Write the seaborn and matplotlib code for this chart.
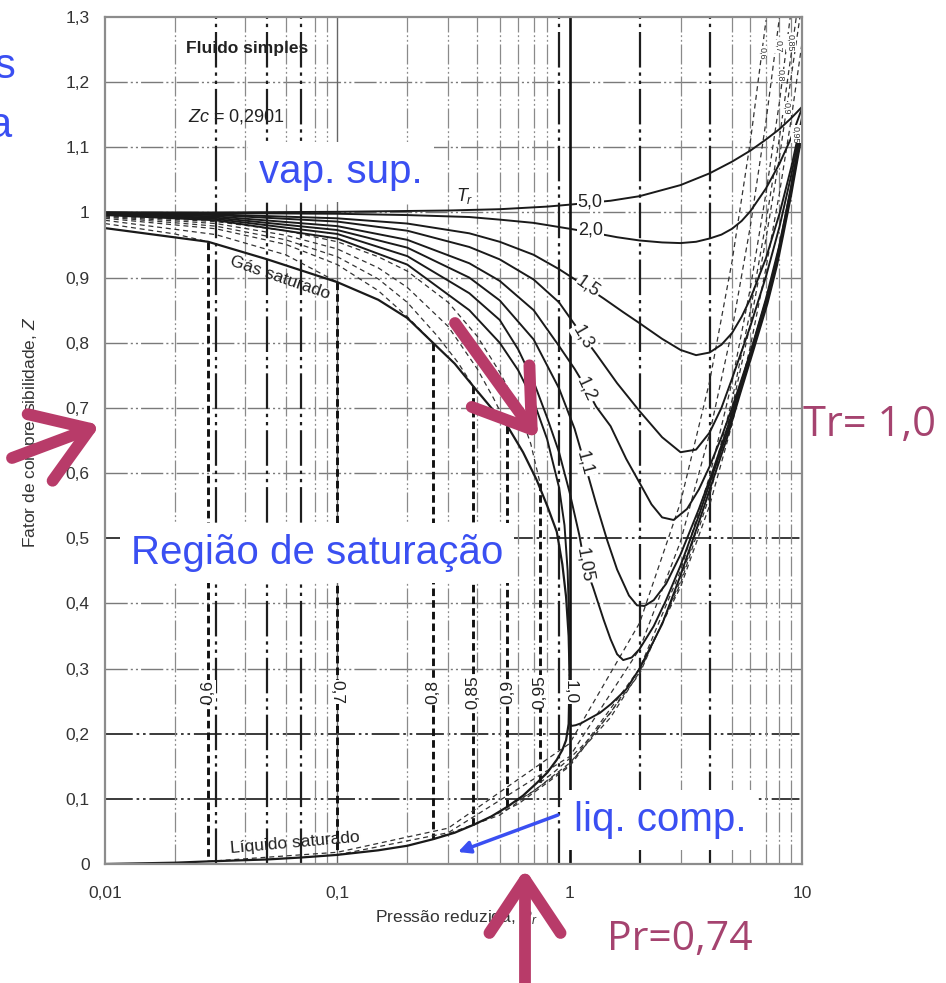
import matplotlib
matplotlib.use("Agg")
import matplotlib.pyplot as plt
import seaborn as sns
import pandas as pd
from matplotlib.patches import FancyArrowPatch, ArrowStyle

sns.set_theme(style="white")
plt.rcParams["font.family"] = ["Liberation Sans", "DejaVu Sans"]
plt.rcParams["mathtext.fontset"] = "custom"
plt.rcParams["mathtext.it"] = "Liberation Sans:italic"
plt.rcParams["mathtext.rm"] = "Liberation Sans"

# ---------------- data ----------------
# supercritical / vapour isotherms (solid)
P_TR50 = [0.01, 0.03, 0.1, 0.3, 0.5, 0.8, 1.0, 1.5, 2, 3, 4, 5, 6, 7, 8, 9, 10]
Z_TR50 = [1.000, 1.000, 1.001, 1.003, 1.005, 1.009, 1.012, 1.018, 1.025, 1.042, 1.060, 1.078, 1.095, 1.112, 1.128, 1.145, 1.162]

P_TR20 = [0.01, 0.03, 0.1, 0.2, 0.37, 0.5, 0.7, 1.0, 1.3, 1.6, 2.0, 2.5, 3.0, 3.5, 4.0, 4.5, 5.0, 5.5, 6.0, 7.0, 8.0, 9.0, 10]
Z_TR20 = [1.000, 0.999, 0.998, 0.996, 0.993, 0.989, 0.984, 0.975, 0.968, 0.962, 0.957, 0.954, 0.953, 0.955, 0.960, 0.966, 0.975, 0.987, 1.002, 1.037, 1.075, 1.115, 1.160]

P_TR15 = [0.01, 0.03, 0.1, 0.2, 0.37, 0.5, 0.7, 0.9, 1.1, 1.4, 1.7, 2.0, 2.5, 3.0, 3.5, 4.0, 4.5, 5.0, 5.5, 6.0, 7.0, 8.0, 9.0, 10]
Z_TR15 = [1.000, 0.997, 0.991, 0.983, 0.968, 0.955, 0.935, 0.913, 0.893, 0.868, 0.847, 0.830, 0.806, 0.789, 0.781, 0.785, 0.797, 0.815, 0.840, 0.868, 0.930, 0.998, 1.070, 1.145]

P_TR13 = [0.01, 0.03, 0.1, 0.2, 0.37, 0.5, 0.7, 0.9, 1.1, 1.3, 1.6, 2.0, 2.5, 3.0, 3.5, 4.0, 4.5, 5.0, 6.0, 7.0, 8.0, 9.0, 10]
Z_TR13 = [0.999, 0.996, 0.986, 0.972, 0.947, 0.928, 0.897, 0.862, 0.818, 0.783, 0.738, 0.695, 0.655, 0.632, 0.636, 0.662, 0.700, 0.745, 0.826, 0.902, 0.978, 1.058, 1.140]

P_TR12 = [0.01, 0.03, 0.1, 0.2, 0.37, 0.5, 0.7, 0.9, 1.05, 1.18, 1.3, 1.5, 1.75, 2.0, 2.25, 2.5, 2.8, 3.2, 3.6, 4.0, 4.5, 5.0, 6.0, 7.0, 8.0, 9.0, 10]
Z_TR12 = [0.998, 0.994, 0.979, 0.958, 0.922, 0.895, 0.850, 0.795, 0.760, 0.730, 0.702, 0.672, 0.622, 0.585, 0.552, 0.532, 0.528, 0.545, 0.575, 0.610, 0.655, 0.700, 0.785, 0.868, 0.950, 1.040, 1.135]

P_TR11 = [0.01, 0.03, 0.1, 0.2, 0.37, 0.5, 0.7, 0.9, 1.05, 1.16, 1.3, 1.45, 1.6, 1.8, 1.95, 2.1, 2.3, 2.6, 3.0, 3.6, 4.1, 4.8, 5.4, 6.2, 7.1, 7.8, 8.3, 9.0, 10]
Z_TR11 = [0.997, 0.992, 0.973, 0.946, 0.900, 0.865, 0.805, 0.730, 0.668, 0.615, 0.553, 0.497, 0.452, 0.412, 0.397, 0.396, 0.405, 0.430, 0.475, 0.545, 0.600, 0.672, 0.732, 0.802, 0.872, 0.930, 0.978, 1.042, 1.130]

P_TR105 = [0.01, 0.03, 0.1, 0.2, 0.37, 0.5, 0.6, 0.7, 0.8, 0.9, 1.0, 1.1, 1.16, 1.26, 1.4, 1.5, 1.6, 1.7, 1.85, 2.0, 2.3, 2.6, 3.0, 3.6, 4.1, 4.8, 5.4, 6.2, 7.1, 7.8, 8.3, 9.0, 10]
Z_TR105 = [0.997, 0.990, 0.967, 0.933, 0.876, 0.835, 0.790, 0.740, 0.685, 0.632, 0.570, 0.505, 0.460, 0.425, 0.375, 0.345, 0.322, 0.313, 0.317, 0.330, 0.365, 0.405, 0.458, 0.535, 0.595, 0.665, 0.725, 0.795, 0.865, 0.925, 0.972, 1.035, 1.125]

P_TR10 = [0.01, 0.03, 0.1, 0.2, 0.37, 0.5, 0.6, 0.7, 0.8, 0.9, 0.95, 0.98, 0.995, 1.0, 1.0, 1.003, 1.02, 1.06, 1.12, 1.2, 1.35, 1.5, 1.75, 2.0, 2.5, 3.0, 3.6, 4.1, 4.8, 5.4, 6.2, 7.1, 7.8, 8.3, 9.0, 10]
Z_TR10 = [0.996, 0.988, 0.960, 0.920, 0.850, 0.800, 0.758, 0.710, 0.652, 0.578, 0.520, 0.450, 0.370, 0.290, 0.236, 0.215, 0.212, 0.213, 0.216, 0.222, 0.232, 0.245, 0.268, 0.300, 0.368, 0.443, 0.525, 0.585, 0.658, 0.720, 0.790, 0.860, 0.918, 0.965, 1.028, 1.120]

# saturation curves
P_SATG = [0.01, 0.0278, 0.05, 0.1, 0.15, 0.2, 0.258, 0.32, 0.385, 0.46, 0.54, 0.63, 0.72, 0.8, 0.88, 0.93, 0.965, 0.99, 1.0]
Z_SATG = [0.976, 0.955, 0.928, 0.893, 0.866, 0.838, 0.800, 0.768, 0.733, 0.700, 0.672, 0.632, 0.590, 0.550, 0.510, 0.460, 0.410, 0.350, 0.290]
P_SATL = [0.01, 0.02, 0.0278, 0.05, 0.07, 0.1, 0.15, 0.2, 0.258, 0.32, 0.385, 0.46, 0.54, 0.63, 0.72, 0.8, 0.88, 0.93, 0.965, 0.99, 1.0]
Z_SATL = [0.000, 0.002, 0.004, 0.007, 0.010, 0.014, 0.021, 0.028, 0.038, 0.048, 0.060, 0.073, 0.088, 0.105, 0.124, 0.140, 0.160, 0.175, 0.190, 0.215, 0.290]

# subcritical vapour isotherms (dashed)
P_G095 = [0.01, 0.03, 0.06, 0.1, 0.15, 0.2, 0.3, 0.4, 0.5, 0.6, 0.68, 0.745]
Z_G095 = [0.995, 0.986, 0.972, 0.955, 0.932, 0.910, 0.862, 0.810, 0.755, 0.700, 0.645, 0.585]
P_G090 = [0.01, 0.03, 0.06, 0.1, 0.15, 0.2, 0.3, 0.4, 0.47, 0.54]
Z_G090 = [0.994, 0.983, 0.965, 0.944, 0.915, 0.885, 0.825, 0.760, 0.715, 0.672]
P_G085 = [0.01, 0.03, 0.06, 0.1, 0.15, 0.2, 0.27, 0.33, 0.385]
Z_G085 = [0.993, 0.979, 0.958, 0.932, 0.898, 0.862, 0.810, 0.770, 0.733]
P_G080 = [0.01, 0.03, 0.06, 0.1, 0.15, 0.2, 0.258]
Z_G080 = [0.991, 0.975, 0.951, 0.920, 0.880, 0.840, 0.800]
P_G070 = [0.01, 0.03, 0.06, 0.1]
Z_G070 = [0.988, 0.966, 0.935, 0.893]
P_G060 = [0.01, 0.02, 0.0278]
Z_G060 = [0.983, 0.967, 0.955]

# compressed-liquid isotherms (dashed)
P_L060 = [0.0278, 0.1, 0.3, 1, 2, 3, 4, 5, 6, 7.0]
Z_L060 = [0.004, 0.018, 0.055, 0.185, 0.370, 0.555, 0.740, 0.925, 1.110, 1.295]
P_L070 = [0.1, 0.3, 1, 2, 3, 4, 5, 6, 7, 8.0]
Z_L070 = [0.014, 0.048, 0.165, 0.330, 0.495, 0.660, 0.820, 0.980, 1.140, 1.300]
P_L080 = [0.258, 0.5, 1, 2, 3, 4, 5, 6, 7, 8, 8.9]
Z_L080 = [0.038, 0.075, 0.152, 0.300, 0.450, 0.595, 0.740, 0.885, 1.030, 1.170, 1.300]
P_L085 = [0.385, 0.6, 1, 2, 3, 4, 5, 6, 7, 8, 9, 9.45]
Z_L085 = [0.060, 0.092, 0.150, 0.292, 0.435, 0.575, 0.712, 0.850, 0.985, 1.115, 1.245, 1.300]
P_L090 = [0.54, 0.7, 1, 1.5, 2, 3, 4, 5, 6, 7, 8, 9, 9.8]
Z_L090 = [0.088, 0.112, 0.155, 0.225, 0.295, 0.430, 0.565, 0.700, 0.830, 0.960, 1.085, 1.210, 1.300]
P_L095 = [0.745, 0.85, 1, 1.2, 1.5, 2, 3, 4, 5, 6, 7, 8, 9, 10]
Z_L095 = [0.125, 0.140, 0.162, 0.190, 0.232, 0.300, 0.425, 0.550, 0.675, 0.795, 0.915, 1.030, 1.145, 1.260]

# two-phase (vertical) isotherms
TR_SAT = ["0,6", "0,7", "0,8", "0,85", "0,9", "0,95", "1,0"]
P_SAT = [0.0278, 0.1, 0.258, 0.385, 0.54, 0.745, 1.0]
Z_SAT_VAP = [0.955, 0.893, 0.800, 0.733, 0.672, 0.585]
Z_SAT_LIQ = [0.004, 0.014, 0.038, 0.060, 0.088, 0.125]

# small labels of the liquid isotherms (top right corner)
TR_LIQ_LABELS = ["0,6", "0,7", "0,8", "0,85", "0,9", "0,95"]
P_LIQ_LABELS = [6.75, 7.9, 8.1, 8.95, 8.6, 9.4]
Z_LIQ_LABELS = [1.245, 1.255, 1.21, 1.26, 1.16, 1.12]

TR_LABELS = ["5,0", "2,0", "1,5", "1,3", "1,2", "1,1", "1,05"]

X_TICKS = [0.01, 0.1, 1, 10]
X_TICKLABELS = ["0,01", "0,1", "1", "10"]
Y_TICKS = [0, 0.1, 0.2, 0.3, 0.4, 0.5, 0.6, 0.7, 0.8, 0.9, 1.0, 1.1, 1.2, 1.3]
Y_TICKLABELS = ["0", "0,1", "0,2", "0,3", "0,4", "0,5", "0,6", "0,7", "0,8", "0,9", "1", "1,1", "1,2", "1,3"]

# ---------------- build tables ----------------
def table(curves):
    rows = []
    for name, (p, z) in curves.items():
        for a, b in zip(p, z):
            rows.append({"P": a, "Z": b, "curve": name})
    return pd.DataFrame(rows)

solid = table({"5.0": (P_TR50, Z_TR50), "2.0": (P_TR20, Z_TR20), "1.5": (P_TR15, Z_TR15),
               "1.3": (P_TR13, Z_TR13), "1.2": (P_TR12, Z_TR12), "1.1": (P_TR11, Z_TR11),
               "1.05": (P_TR105, Z_TR105), "1.0": (P_TR10, Z_TR10)})
satc = table({"satg": (P_SATG, Z_SATG), "satl": (P_SATL, Z_SATL)})
dashed = table({"g95": (P_G095, Z_G095), "g90": (P_G090, Z_G090), "g85": (P_G085, Z_G085),
                "g80": (P_G080, Z_G080), "g70": (P_G070, Z_G070), "g60": (P_G060, Z_G060),
                "l60": (P_L060, Z_L060), "l70": (P_L070, Z_L070), "l80": (P_L080, Z_L080),
                "l85": (P_L085, Z_L085), "l90": (P_L090, Z_L090), "l95": (P_L095, Z_L095)})
vrows = []
for i, p in enumerate(P_SAT[:-1]):
    vrows.append({"P": p, "Z": Z_SAT_VAP[i], "curve": TR_SAT[i]})
    vrows.append({"P": p, "Z": Z_SAT_LIQ[i], "curve": TR_SAT[i]})
vert = pd.DataFrame(vrows)

# ---------------- figure ----------------
W, H = 946, 983
fig = plt.figure(figsize=(W / 100, H / 100), dpi=100)
ax = fig.add_axes([105 / W, 1 - 864 / H, 697 / W, 847 / H])
ax.set_xscale("log")
ax.set_xlim(0.01, 10)
ax.set_ylim(0, 1.3)

DD = (0, (16, 2.2, 1.5, 2.2, 1.5, 2.2))
for y in Y_TICKS[1:-1]:
    dark = y in (0.1, 0.2, 0.5)
    ax.axhline(y, color="#222" if dark else "#7a7a7a", lw=1.25 if dark else 1.0, ls=DD, zorder=0.5)
for dec in (0.01, 0.1, 1):
    for k in range(2, 10):
        x = dec * k
        bold = round(x, 4) in (0.03, 0.05, 0.07, 0.9, 2, 4)
        ax.axvline(x, color="#1e1e1e" if bold else "#8a8a8a", lw=1.6 if bold else 0.9,
                   ls=DD, zorder=0.5)
ax.axvline(0.1, color="#666", lw=1.0, zorder=0.6)
ax.axvline(1.0, color="#111", lw=1.9, zorder=0.6)

sns.lineplot(data=vert, x="P", y="Z", units="curve", estimator=None, sort=False,
             color="#111", lw=2.1, linestyle=(0, (2.6, 1.4)), legend=False, ax=ax, zorder=1.5)
sns.lineplot(data=dashed, x="P", y="Z", units="curve", estimator=None, sort=False,
             color="#333", lw=0.9, linestyle=(0, (4, 3)), legend=False, ax=ax, zorder=1.6)
sns.lineplot(data=satc, x="P", y="Z", units="curve", estimator=None, sort=False,
             color="#1a1a1a", lw=1.6, legend=False, ax=ax, zorder=2)
sns.lineplot(data=solid, x="P", y="Z", units="curve", estimator=None, sort=False,
             color="#1a1a1a", lw=1.4, legend=False, ax=ax, zorder=2)

ax.set_xlim(0.01, 10)
ax.set_ylim(0, 1.3)
ax.set_xlabel("")
ax.set_ylabel("")

# ticks
ax.set_xticks(X_TICKS)
ax.set_xticklabels(X_TICKLABELS)
ax.set_xticks([d * k for d in (0.01, 0.1, 1) for k in range(2, 10)], minor=True)
ax.set_yticks(Y_TICKS)
ax.set_yticklabels(Y_TICKLABELS)
ax.set_yticks([0.05 + 0.1 * i for i in range(13)], minor=True)
ax.tick_params(which="major", length=0, labelsize=12.5, labelcolor="#333")
ax.tick_params(axis="y", which="major", pad=11)
ax.tick_params(axis="x", which="major", pad=16)
ax.tick_params(which="minor", direction="in", length=9, width=1.3, color="#333")
ax.xaxis.set_minor_formatter(plt.NullFormatter())
for s in ax.spines.values():
    s.set_color("#8c8c8c")
    s.set_linewidth(1.6)

# curve labels
wb = dict(facecolor="white", edgecolor="none", pad=0.6)
lab_pos = [(1.225, 1.016, 0), (1.225, 0.973, 0), (1.2, 0.886, -35), (1.14, 0.809, -60),
           (1.18, 0.728, -65), (1.16, 0.615, -75), (1.16, 0.459, -80)]
for t, (px, pz, r) in zip(TR_LABELS, lab_pos):
    ax.text(px, pz, t, fontsize=13, color="#222", rotation=r, ha="center", va="center",
            bbox=wb, zorder=3)
ax.text(0.355, 1.026, "$T_r$", fontsize=13, color="#222", ha="center", va="center", zorder=3)
rots = [90, -90, 90, 90, 90, 90, -90]
for t, p, r in zip(TR_SAT, P_SAT, rots):
    ax.text(p, 0.264, t, fontsize=12.5, color="#222", rotation=r, ha="center", va="center",
            bbox=dict(facecolor="white", edgecolor="none", pad=0.3), zorder=3)
for t, p, z in zip(TR_LIQ_LABELS, P_LIQ_LABELS, Z_LIQ_LABELS):
    ax.text(p, z, t, fontsize=6.5, color="#333", rotation=-90, ha="center", va="center",
            bbox=dict(facecolor="white", edgecolor="none", pad=0.2), zorder=3)
ax.text(0.0566, 0.899, "Gás saturado", fontsize=12.5, color="#222", rotation=-19,
        ha="center", va="center", zorder=3)
ax.text(0.066, 0.032, "Líquido saturado", fontsize=12.5, color="#222", rotation=5,
        ha="center", va="center", zorder=3)

# figure texts
def fx(x): return x / W
def fy(y): return 1 - y / H

fig.text(fx(247), fy(48), "Fluido simples", fontsize=12.5, fontweight="bold", color="#222",
         ha="center", va="center")
fig.text(fx(237), fy(116), "$Zc$ = 0,2901", fontsize=13, color="#222", ha="center", va="center")
fig.text(fx(30), fy(432), "Fator de compressibilidade, $Z$", fontsize=12.5, color="#333",
         rotation=90, ha="center", va="center")
fig.text(fx(456), fy(918), "Pressão reduzida, $P_r$", fontsize=12.5, color="#333",
         ha="center", va="center")

BLUE = "#3a4ff2"
MAG = "#b83b69"
MAGT = "#a5436f"
bb = dict(facecolor="white", edgecolor="none", pad=8)
fig.text(fx(341), fy(172), "vap. sup.", fontsize=29, color=BLUE, ha="center", va="center", bbox=bb)
fig.text(fx(317), fy(553), "Região de saturação", fontsize=29, color=BLUE, ha="center",
         va="center", bbox=bb)
fig.text(fx(660), fy(820), "liq. comp.", fontsize=29, color=BLUE, ha="center", va="center", bbox=bb)
fig.text(fx(16), fy(78), "s", fontsize=30, color=BLUE, ha="right", va="baseline")
fig.text(fx(11), fy(137), "a", fontsize=30, color=BLUE, ha="right", va="baseline")

fig.text(fx(803), fy(425), "Tr= 1,0", fontsize=30, color=MAGT, ha="left", va="center",
         family=["Open Sans", "DejaVu Sans"])
fig.text(fx(607), fy(940), "Pr=0,74", fontsize=29.5, color=MAGT, ha="left", va="center",
         family=["Open Sans", "DejaVu Sans"])

fig.add_artist(FancyArrowPatch((fx(558), fy(815)), (fx(458), fy(852)), transform=fig.transFigure,
                               arrowstyle="-|>", mutation_scale=18, lw=2.5, color=BLUE,
                               shrinkA=0, shrinkB=0, zorder=9))

def marrow(tail, tip):
    fig.add_artist(FancyArrowPatch((fx(tail[0]), fy(tail[1])), (fx(tip[0]), fy(tip[1])),
                                   transform=fig.transFigure,
                                   arrowstyle=ArrowStyle("->", head_length=1.2, head_width=0.8),
                                   mutation_scale=32, lw=8.5, color=MAG, capstyle="round",
                                   joinstyle="round", shrinkA=0, shrinkB=0, zorder=10))

marrow((12, 458), (100, 425))
marrow((455, 323), (538, 438))
marrow((525, 995), (525, 869))

fig.savefig("out.png", dpi=100)
